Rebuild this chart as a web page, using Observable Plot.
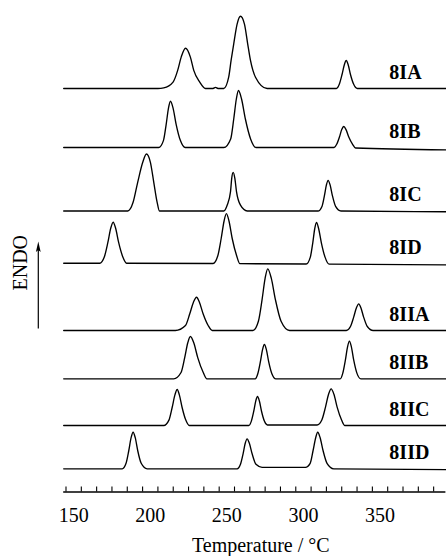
<!DOCTYPE html>
<html>
<head>
<meta charset="utf-8">
<script src="https://cdn.jsdelivr.net/npm/d3@7"></script>
<script src="https://cdn.jsdelivr.net/npm/@observablehq/plot@0.6"></script>
<style>
  html, body { margin: 0; padding: 0; background: #fff; }
</style>
</head>
<body>
<div id="chart"></div>
<script>
// ---- data (temperature °C, signal in arbitrary units) ----
const curveNames = ["8IA", "8IB", "8IC", "8ID", "8IIA", "8IIB", "8IIC", "8IID"];
const curveOffsets = [403.5, 344.5, 281, 228.8, 161.5, 113.2, 66.5, 23.2];

const curve8IA = [[143.5,0],[205,0],[208.8,0.6],[214.9,6.4],[217.9,18.1],[220.2,31.4],[223.0,40.3],[226.2,31.4],[228.4,18.1],[232.3,6.4],[236.0,0],
  [241.0,0],[242.6,1.2],[244.2,0],
  [248.0,0],[251.2,11.3],[252.8,28.3],[254.5,44.7],[256.7,64.4],[258.9,72.3],[261.5,64.4],[263.6,44.7],[265.4,28.3],[268.7,11.3],[276.3,0],
  [321.5,0],[323.4,4.2],[325.2,14],[326.7,23.8],[327.9,28],[329.2,23.8],[330.7,14],[332.8,4.2],[335.2,0],[393,0]];
const curve8IB = [[143.5,0],[205.5,0],[208.6,6.9],[210.4,23.2],[211.9,39.4],[213.2,46.3],[214.9,39.4],[216.9,23.2],[219.7,6.9],[222.8,0],
  [248.0,0],[252.5,8.6],[254.5,28.5],[256.2,48.5],[257.6,57],[259.6,48.5],[262.1,28.5],[265.5,8.6],[269.0,0],
  [320.0,0],[321.7,3.2],[323.5,10.5],[325.0,17.9],[326.3,21],[327.8,17.9],[329.6,10.5],[332.1,3.2],[334.0,-0.5],[393,-2.3]];
const curve8IC = [[143.5,0],[185.3,0],[188.8,8.7],[191.8,28.7],[195.1,48.7],[197.5,57],[200.1,48.7],[202.3,28.7],[204.5,8.7],[206.0,0],
  [248.0,0],[250.2,5.8],[252.4,19.4],[253.2,32.9],[254.1,38.7],[255.2,32.9],[256.3,19.4],[258.9,5.8],[263.3,0],
  [309.5,0],[312.1,4.6],[313.7,15.4],[315.0,26.1],[316.1,30.7],[317.4,26.1],[318.9,15.4],[321.0,4.6],[324.5,0],[393,-0.7]];
const curve8ID = [[143.5,0],[167.0,0],[170.0,6.2],[172.3,20.5],[174.2,34.9],[175.8,41],[177.4,34.9],[179.4,20.5],[182.1,6.2],[184.5,0],
  [241.0,-0.3],[244.1,7.4],[246.3,24.7],[248.2,42.2],[249.7,49.6],[251.4,42.2],[253.5,24.7],[256.4,7.4],[258.5,-0.5],
  [301.8,-0.8],[304.5,6.1],[306.1,20.4],[307.4,34.7],[308.5,40.8],[309.9,34.7],[311.7,20.4],[314.1,6.1],[316.8,-1],[393,-1.6]];
const curve8IIA = [[143.5,0],[216.4,0],[223.0,5],[225.8,16.7],[228.2,28.3],[230.2,33.3],[232.1,28.3],[234.5,16.7],[237.8,5],[240.5,0],
  [267.0,0],[270.6,9.3],[273.0,30.9],[275.0,52.4],[276.7,61.7],[279.0,52.4],[281.7,30.9],[285.4,9.3],[291.0,0],
  [328.0,0],[330.7,4],[332.8,13.4],[334.6,22.7],[336.1,26.7],[337.5,22.7],[339.3,13.4],[341.7,4],[345.5,0],[393,0]];
const curve8IIB = [[143.5,0],[215.3,0],[220.1,6.3],[222.5,21.2],[224.5,36],[226.2,42.3],[228.4,36],[231.0,21.2],[234.6,6.3],[237.0,0],
  [268.5,0],[270.2,5.1],[271.9,17.2],[273.3,29.2],[274.5,34.3],[275.8,29.2],[277.3,17.2],[279.4,5.1],[282.0,0],
  [324.0,0],[325.7,5.7],[327.4,18.9],[328.8,32],[330.0,37.7],[331.3,32],[332.8,18.9],[334.9,5.7],[337.5,0],[393,0]];
const curve8IIC = [[143.5,0],[208.8,0],[212.2,5.4],[214.3,18],[216.1,30.6],[217.6,36],[219.0,30.6],[220.8,18],[223.2,5.4],[225.5,0],
  [264.3,0],[266.0,4.4],[267.6,14.5],[268.9,24.7],[270.0,29],[271.2,24.7],[272.6,14.5],[274.5,4.4],[276.5,0.5],
  [308.9,0.5],[312.0,5.5],[314.4,18.4],[316.4,31.2],[318.1,36.7],[319.9,31.2],[322.0,18.4],[324.9,5.5],[327.0,0],[393,0]];
const curve8IID = [[143.5,0],[181.7,0],[184.2,5.5],[186.0,18.3],[187.5,31.1],[188.8,36.6],[190.2,31.1],[191.8,18.3],[194.1,5.5],[198.0,0],
  [256.7,0],[258.9,4.5],[260.6,15],[262.0,25.5],[263.2,30],[264.7,25.5],[266.5,15],[269.0,4.5],[273.0,1.5],
  [301.3,1.5],[304.4,5.5],[306.3,18.3],[308.0,31.1],[309.3,36.6],[310.9,31.1],[312.8,18.3],[315.4,5.5],[319.8,0],[393,-0.8]];

const curvePoints = [curve8IA, curve8IB, curve8IC, curve8ID, curve8IIA, curve8IIB, curve8IIC, curve8IID];
const tickLabels = [150, 200, 250, 300, 350];
const minorTicks = [145,155,165,175,185,195,205,215,225,235,245,255,265,275,285,295,305,315,325,335,345,355,365,375,385];
const xLabel = "Temperature / °C";
const yLabel = "ENDO";

// ---- build table ----
const rows = curvePoints.flatMap((pts, i) =>
  pts.map(([t, s]) => ({curve: curveNames[i], t, v: curveOffsets[i] + s})));

const serif = "'Liberation Serif', 'Times New Roman', 'DejaVu Serif', serif";
const LABEL_T = 356.1;   // where the curve names start
const LABEL_LIFT = 16;   // names sit above each baseline

const plot = Plot.plot({
  width: 446,
  height: 556,
  marginLeft: 63.2,
  marginRight: 0.6,
  marginTop: 0,
  marginBottom: 64.5,
  x: {domain: [143.5, 393], axis: null},
  y: {domain: [0, 491.5], axis: null},
  style: {fontFamily: serif, background: "white", color: "black", overflow: "visible"},
  marks: [
    Plot.line(rows, {x: "t", y: "v", z: "curve", curve: "monotone-x", stroke: "black", strokeWidth: 1.35}),
    Plot.ruleY([0], {stroke: "black", strokeWidth: 1.3}),
    Plot.ruleX(minorTicks, {x: d => d, y1: 0, y2: 5, stroke: "black", strokeWidth: 1.1}),
    Plot.text(tickLabels, {x: d => d, text: d => String(d), frameAnchor: "bottom", dy: 23.8,
      fontSize: 20, lineAnchor: "middle", fill: "black"}),
    Plot.text([xLabel], {frameAnchor: "bottom", dx: 6, dy: 54, fontSize: 20, lineAnchor: "middle", fill: "black"}),
    Plot.text([yLabel], {frameAnchor: "left", rotate: -90, dx: -42.7, dy: 44.25, fontSize: 20,
      lineAnchor: "middle", fill: "black"}),
    Plot.text(curveNames, {x: LABEL_T, y: (d, i) => curveOffsets[i] + LABEL_LIFT, text: d => d,
      textAnchor: "start", lineAnchor: "middle", fontSize: 20, fontWeight: "bold", fill: "black",
      ariaLabel: "curve-labels"})
  ]
});

const svg = d3.select(plot);
svg.selectAll('g[aria-label="curve-labels"] text').attr("letter-spacing", "1px");

// ENDO arrow (annotation)
svg.append("line")
  .attr("x1", 38.3).attr("x2", 38.3).attr("y1", 248).attr("y2", 328.5)
  .attr("stroke", "black").attr("stroke-width", 1.2);
svg.append("path")
  .attr("d", "M38.3,241.5 L35.9,252 L38.3,250 L40.7,252 Z")
  .attr("fill", "black");

document.getElementById("chart").appendChild(plot);
</script>
</body>
</html>
